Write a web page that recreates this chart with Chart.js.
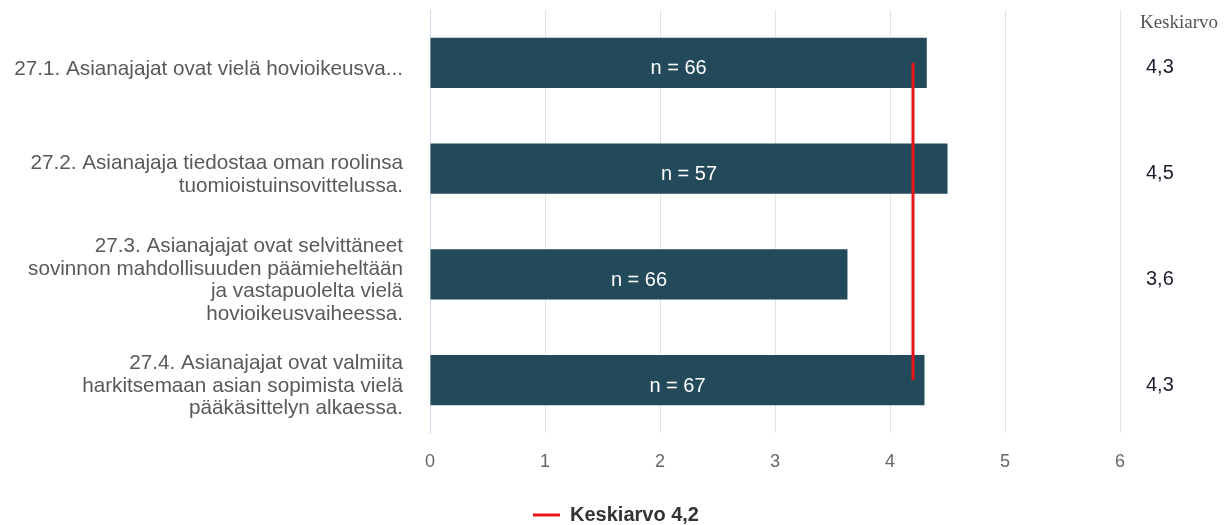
<!DOCTYPE html>
<html>
<head>
<meta charset="utf-8">
<script src="https://cdn.jsdelivr.net/npm/chart.js@4"></script>
<style>
  html, body { margin: 0; padding: 0; background: #fff; }
  #wrap { width: 1232px; height: 525px; }
</style>
</head>
<body>
<div id="wrap"><canvas id="grafico"></canvas></div>
<script>
const questions = [
  ['27.1. Asianajajat ovat vielä hovioikeusva...'],
  ['27.2. Asianajaja tiedostaa oman roolinsa', 'tuomioistuinsovittelussa.'],
  ['27.3. Asianajajat ovat selvittäneet', 'sovinnon mahdollisuuden päämieheltään', 'ja vastapuolelta vielä', 'hovioikeusvaiheessa.'],
  ['27.4. Asianajajat ovat valmiita', 'harkitsemaan asian sopimista vielä', 'pääkäsittelyn alkaessa.']
];
const means = [4.32, 4.50, 3.63, 4.30];
const meanLabels = ['4,3', '4,5', '3,6', '4,3'];
const counts = [66, 57, 66, 67];
const overallMean = [4.2, 4.2, 4.2, 4.2];
const xMin = 0;
const xMax = 6;

const sans = '"Liberation Sans", Arial, sans-serif';

// "n = xx" inside each bar
const barText = {
  id: 'barText',
  afterDatasetsDraw(chart) {
    const ctx = chart.ctx;
    const meta = chart.getDatasetMeta(0);
    ctx.save();
    ctx.fillStyle = '#ffffff';
    ctx.font = '20px ' + sans;
    ctx.textAlign = 'center';
    ctx.textBaseline = 'middle';
    meta.data.forEach((bar, i) => {
      ctx.fillText('n = ' + counts[i], (bar.base + bar.x) / 2, bar.y + 6);
    });
    ctx.restore();
  }
};

// right hand column with the mean values
const meanColumn = {
  id: 'meanColumn',
  afterDraw(chart) {
    const ctx = chart.ctx;
    const y = chart.scales.y;
    ctx.save();
    ctx.font = '19px "Liberation Serif", "Times New Roman", serif';
    ctx.fillStyle = '#555555';
    ctx.textAlign = 'center';
    ctx.textBaseline = 'middle';
    ctx.fillText('Keskiarvo', 1179, 23);
    ctx.font = '20px ' + sans;
    ctx.fillStyle = '#1c1c2c';
    ctx.textAlign = 'left';
    meanLabels.forEach((txt, i) => {
      ctx.fillText(txt, 1146, y.getPixelForValue(i) + 5);
    });
    ctx.restore();
  }
};

const chart = new Chart(document.getElementById('grafico'), {
  type: 'bar',
  data: {
    labels: questions,
    datasets: [{
      label: 'Keskiarvo',
      data: means,
      backgroundColor: '#224a5a',
      barPercentage: 0.475,
      categoryPercentage: 1,
      order: 2
    }, {
      type: 'line',
      label: 'Keskiarvo 4,2',
      data: overallMean,
      indexAxis: 'y',
      borderColor: '#e8141b',
      backgroundColor: '#e8141b',
      borderWidth: 3,
      pointRadius: 0,
      order: 1
    }]
  },
  options: {
    indexAxis: 'y',
    responsive: true,
    maintainAspectRatio: false,
    animation: false,
    layout: {
      padding: { top: 10, right: 0, left: 0, bottom: -10 }
    },
    scales: {
      x: {
        min: xMin,
        max: xMax,
        ticks: {
          stepSize: 1,
          color: '#666666',
          padding: 18,
          font: { family: sans, size: 18 }
        },
        grid: {
          drawTicks: false,
          color: (c) => c.index === 0 ? '#cfd9e8' : '#e3e3e3'
        },
        border: { display: false },
        afterFit(scale) {
          scale.height = 70;
          scale.paddingRight = 112;
        }
      },
      y: {
        ticks: {
          color: '#595959',
          padding: 27,
          labelOffset: 6,
          font: { family: sans, size: 20.7, lineHeight: 1.09 }
        },
        grid: { display: false, drawTicks: false },
        border: { color: '#cfd9e8' },
        afterFit(scale) {
          scale.width = 430;
          scale.paddingTop = 0;
          scale.paddingBottom = 0;
        }
      }
    },
    plugins: {
      tooltip: { enabled: false },
      legend: {
        position: 'bottom',
        labels: {
          filter: (item) => item.datasetIndex === 1,
          usePointStyle: true,
          pointStyle: 'line',
          pointStyleWidth: 27,
          color: '#333333',
          padding: 2,
          font: { family: sans, size: 20, weight: 'bold' }
        }
      }
    }
  },
  plugins: [barText, meanColumn]
});
</script>
</body>
</html>
